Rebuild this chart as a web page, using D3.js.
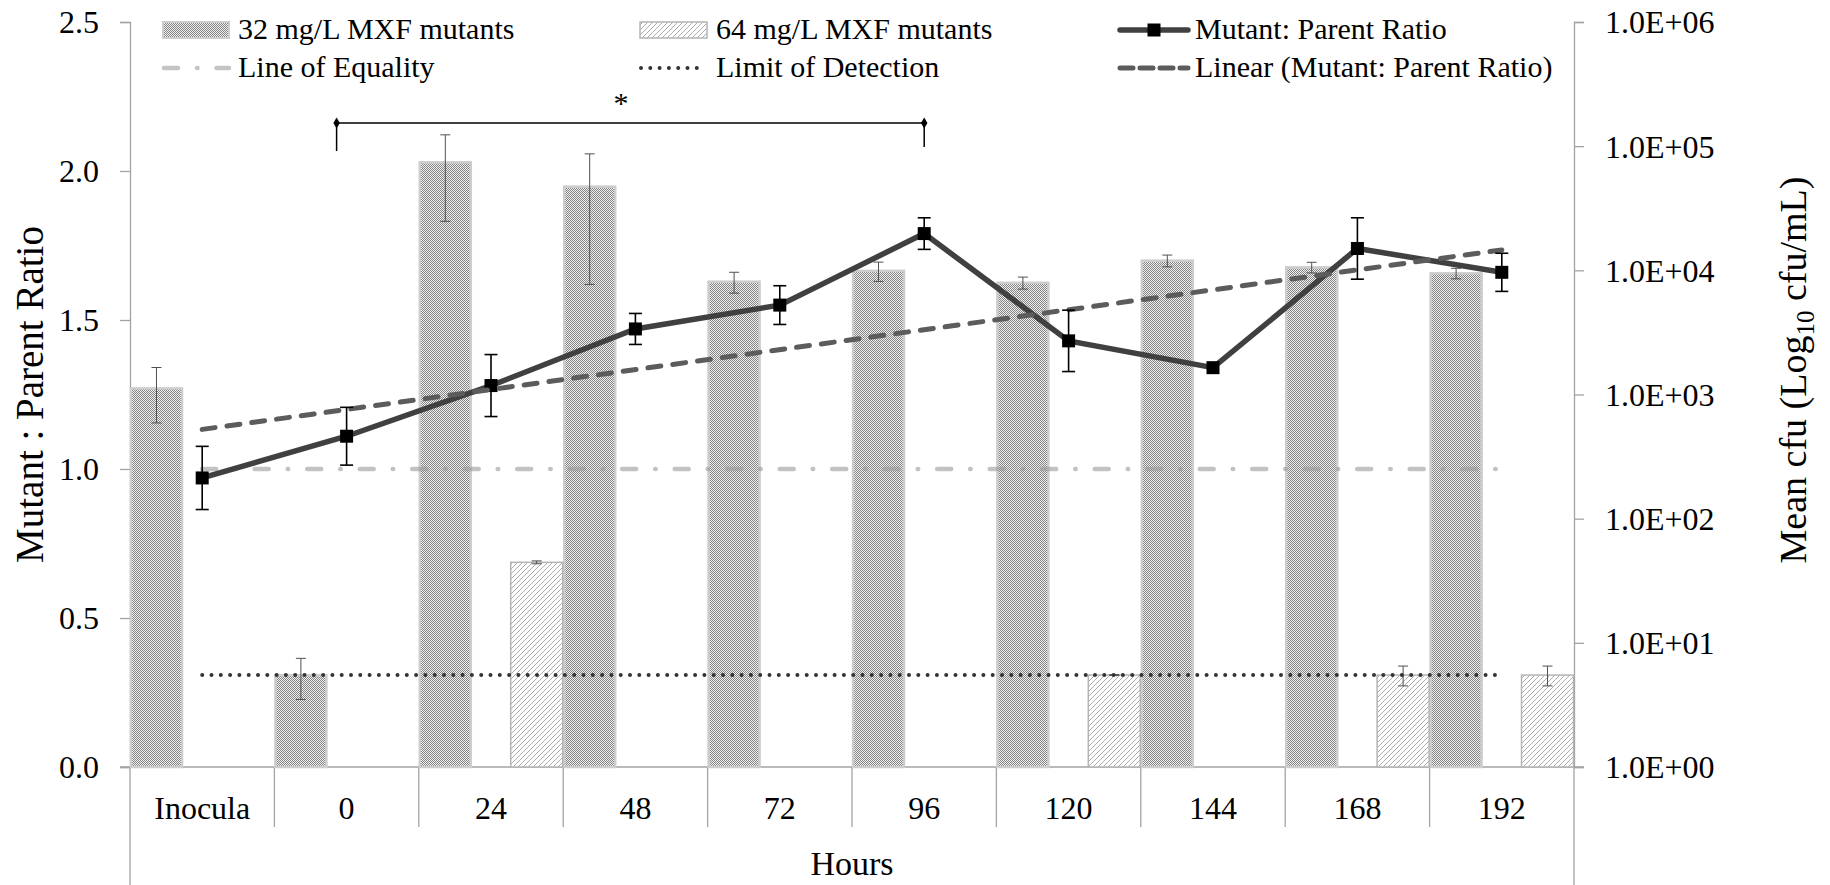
<!DOCTYPE html>
<html>
<head>
<meta charset="utf-8">
<script src="https://d3js.org/d3.v7.min.js"></script>
<style>
  body { margin: 0; background: #fff; }
  svg text { font-family: "Liberation Serif", "Times New Roman", serif; fill: #000; }
</style>
</head>
<body>
<svg id="chart" width="1830" height="885"></svg>
<script>
// hours after start (first group is the inocula)
var categories = ["Inocula", "0", "24", "48", "72", "96", "120", "144", "168", "192"];

// mutant : parent ratio (left axis) and its error
var ratio    = [0.97, 1.11, 1.28, 1.47, 1.55, 1.79, 1.43, 1.34, 1.74, 1.66];
var ratioErr = [0.106, 0.097, 0.104, 0.052, 0.065, 0.053, 0.103, 0, 0.103, 0.064];

// mean cfu/mL of mutants (right axis, log)
var mut32    = [1120, 5.5, 74100, 47200, 8100, 9900, 7940, 11970, 10570, 9460];
var mut32Err = [530, 2.0, 49300, 39500, 1550, 1750, 880, 1300, 1040, 920];
var mut64    = [null, null, 44.5, null, null, null, 5.5, null, 5.5, 5.5];
var mut64Err = [null, null, 1.2, null, null, null, 0.05, null, 1.0, 1.0];

var equality = 1.0;     // ratio
var detection = 5.5;    // cfu/mL

var leftTicks  = [0, 0.5, 1.0, 1.5, 2.0, 2.5];
var rightTicks = [1, 10, 100, 1000, 10000, 100000, 1000000];

var svg = d3.select("#chart");
var pL = 130, pR = 1574, pT = 22, pB = 767;

var x = d3.scaleBand().domain(categories).range([pL, pR]).padding(0);
var yL = d3.scaleLinear().domain([0, 2.5]).range([pB, pT]);
var yR = d3.scaleLog().domain([1, 1e6]).range([pB, pT]);
var barW = x.bandwidth() * 0.367;
var mid = function(c) { return x(c) + x.bandwidth() / 2; };

// patterns
var defs = svg.append("defs");
var p1 = defs.append("pattern").attr("id", "checker")
  .attr("patternUnits", "userSpaceOnUse").attr("width", 2).attr("height", 2);
p1.append("rect").attr("width", 2).attr("height", 2).attr("fill", "#f0f0f0");
p1.append("rect").attr("width", 1).attr("height", 1).attr("fill", "#848484");
p1.append("rect").attr("x", 1).attr("y", 1).attr("width", 1).attr("height", 1).attr("fill", "#848484");

var p2 = defs.append("pattern").attr("id", "hatch")
  .attr("patternUnits", "userSpaceOnUse").attr("width", 5).attr("height", 5);
p2.append("rect").attr("width", 5).attr("height", 5).attr("fill", "#fff");
p2.append("path").attr("d", "M-1,1 l2,-2 M0,5 l5,-5 M4,6 l2,-2")
  .attr("stroke", "#adadad").attr("stroke-width", 1);

// axes
var axisCol = "#a3a3a3";
var gL = svg.append("g").attr("transform", "translate(" + pL + ",0)")
  .call(d3.axisLeft(yL).tickValues(leftTicks).tickFormat(d3.format(".1f")).tickSize(10).tickPadding(21));
var gR = svg.append("g").attr("transform", "translate(" + pR + ",0)")
  .call(d3.axisRight(yR).tickValues(rightTicks)
    .tickFormat(function(d) { return "1.0E+" + String(Math.round(Math.log10(d))).padStart(2, "0"); })
    .tickSize(10).tickPadding(21));
[gL, gR].forEach(function(g) {
  g.select(".domain").attr("stroke", axisCol).attr("stroke-width", 1.3);
  g.selectAll(".tick line").attr("stroke", axisCol).attr("stroke-width", 1.3);
  g.selectAll(".tick text").style("font-size", "32px").attr("dy", "0.34em");
});

// category axis
var gx = svg.append("g");
gx.append("line").attr("x1", pL - 10).attr("x2", pR + 10)
  .attr("y1", pB).attr("y2", pB).attr("stroke", axisCol).attr("stroke-width", 1.3);
gx.selectAll(".sep").data(categories.slice(1)).enter().append("line")
  .attr("x1", function(d) { return x(d); }).attr("x2", function(d) { return x(d); })
  .attr("y1", pB).attr("y2", pB + 60)
  .attr("stroke", axisCol).attr("stroke-width", 1.3);
[pL, pR].forEach(function(v) {
  gx.append("line").attr("x1", v).attr("x2", v).attr("y1", pB).attr("y2", 885)
    .attr("stroke", axisCol).attr("stroke-width", 1.3);
});
gx.selectAll(".lab").data(categories).enter().append("text")
  .attr("x", function(d) { return mid(d); }).attr("y", 819)
  .attr("text-anchor", "middle").style("font-size", "32px").text(function(d) { return d; });

// bars
var bars = svg.append("g");
var rows32 = categories.map(function(c, i) { return { c: c, v: mut32[i], e: mut32Err[i] }; });
var rows64 = categories.map(function(c, i) { return { c: c, v: mut64[i], e: mut64Err[i] }; })
  .filter(function(d) { return d.v != null; });

bars.selectAll(".b32").data(rows32).enter().append("rect")
  .attr("x", function(d) { return x(d.c) + 1; })
  .attr("y", function(d) { return yR(d.v); })
  .attr("width", barW - 2)
  .attr("height", function(d) { return pB - yR(d.v); })
  .attr("fill", "url(#checker)").attr("stroke", "#cdcdcd").attr("stroke-width", 2.5);
bars.selectAll(".b64").data(rows64).enter().append("rect")
  .attr("x", function(d) { return x(d.c) + x.bandwidth() - barW + 0.5; })
  .attr("y", function(d) { return yR(d.v); })
  .attr("width", barW - 1)
  .attr("height", function(d) { return pB - yR(d.v); })
  .attr("fill", "url(#hatch)").attr("stroke", "#b4b4b4").attr("stroke-width", 1.5);

function errBars(g, rows, cx, sc, cap, col, w) {
  var eg = g.selectAll(null).data(rows.filter(function(d) { return d.e; })).enter().append("g")
    .attr("stroke", col).attr("stroke-width", w);
  eg.append("line").attr("x1", cx).attr("x2", cx)
    .attr("y1", function(d) { return sc(d.v + d.e); }).attr("y2", function(d) { return sc(d.v - d.e); });
  eg.append("line").attr("x1", function(d) { return cx(d) - cap; }).attr("x2", function(d) { return cx(d) + cap; })
    .attr("y1", function(d) { return sc(d.v + d.e); }).attr("y2", function(d) { return sc(d.v + d.e); });
  eg.append("line").attr("x1", function(d) { return cx(d) - cap; }).attr("x2", function(d) { return cx(d) + cap; })
    .attr("y1", function(d) { return sc(d.v - d.e); }).attr("y2", function(d) { return sc(d.v - d.e); });
}
errBars(bars, rows32, function(d) { return x(d.c) + barW / 2; }, yR, 5, "#505050", 1);
errBars(bars, rows64, function(d) { return x(d.c) + x.bandwidth() - barW / 2; }, yR, 5, "#505050", 1);

// reference lines
var first = mid(categories[0]), last = mid(categories[categories.length - 1]);
svg.append("line").attr("x1", first).attr("x2", last)
  .attr("y1", yR(detection)).attr("y2", yR(detection))
  .attr("stroke", "#333").attr("stroke-width", 4)
  .attr("stroke-linecap", "round").attr("stroke-dasharray", "0,9.3");
svg.append("line").attr("x1", first).attr("x2", last)
  .attr("y1", yL(equality)).attr("y2", yL(equality))
  .attr("stroke", "#9a9a9a").attr("stroke-opacity", 0.6).attr("stroke-width", 4.5)
  .attr("stroke-linecap", "round").attr("stroke-dasharray", "14,19,0.5,19");

// ratio series
var pts = categories.map(function(c, i) { return { c: c, v: ratio[i], e: ratioErr[i] }; });
svg.append("path").datum(pts)
  .attr("d", d3.line().x(function(d) { return mid(d.c); }).y(function(d) { return yL(d.v); }))
  .attr("fill", "none").attr("stroke", "#404040").attr("stroke-width", 5.5);
svg.selectAll(".mk").data(pts).enter().append("rect")
  .attr("x", function(d) { return mid(d.c) - 6.5; }).attr("y", function(d) { return yL(d.v) - 6.5; })
  .attr("width", 13).attr("height", 13).attr("fill", "#000");

// linear trendline (least squares of the ratio series)
var xi = d3.range(1, ratio.length + 1);
var mx = d3.mean(xi), my = d3.mean(ratio);
var slope = d3.sum(xi, function(v, i) { return (v - mx) * (ratio[i] - my); }) /
            d3.sum(xi, function(v) { return (v - mx) * (v - mx); });
var icpt = my - slope * mx;
svg.append("line").attr("x1", first).attr("x2", last)
  .attr("y1", yL(icpt + slope * 1)).attr("y2", yL(icpt + slope * ratio.length))
  .attr("stroke", "#5c5c5c").attr("stroke-width", 5)
  .attr("stroke-linecap", "round").attr("stroke-dasharray", "13,12");

errBars(svg, pts, function(d) { return mid(d.c); }, yL, 6.5, "#000", 1.6);

// significance bracket 0 h vs 96 h
var bx1 = mid("0") - 10, bx2 = mid("96"), by = 123;
var br = svg.append("g").attr("stroke", "#000").attr("stroke-width", 1.5);
br.append("line").attr("x1", bx1).attr("x2", bx2).attr("y1", by).attr("y2", by);
br.append("line").attr("x1", bx1).attr("x2", bx1).attr("y1", by).attr("y2", by + 28);
br.append("line").attr("x1", bx2).attr("x2", bx2).attr("y1", by).attr("y2", by + 24);
[bx1, bx2].forEach(function(v) {
  svg.append("path").attr("d", d3.symbol().type(d3.symbolDiamond).size(36)())
    .attr("transform", "translate(" + v + "," + by + ")").attr("fill", "#000");
});
svg.append("text").attr("x", 621).attr("y", 113).attr("text-anchor", "middle")
  .style("font-size", "30px").text("*");

// axis titles
svg.append("text").attr("transform", "translate(43," + ((pT + pB) / 2) + ") rotate(-90)")
  .attr("text-anchor", "middle").style("font-size", "39px").text("Mutant : Parent Ratio");
var rt = svg.append("text").attr("transform", "translate(1806,370) rotate(-90)")
  .attr("text-anchor", "middle").style("font-size", "38px");
rt.append("tspan").text("Mean cfu (Log");
rt.append("tspan").attr("dy", 8).style("font-size", "25px").text("10");
rt.append("tspan").attr("dy", -8).text(" cfu/mL)");
svg.append("text").attr("x", (pL + pR) / 2).attr("y", 875)
  .attr("text-anchor", "middle").style("font-size", "34px").text("Hours");

// legend
var lg = svg.append("g").style("font-size", "30px");
var row1 = 30, row2 = 68;
function legText(xp, yp, t) { lg.append("text").attr("x", xp).attr("y", yp + 9).text(t); }
lg.append("rect").attr("x", 163).attr("y", 22).attr("width", 66).attr("height", 16)
  .attr("fill", "url(#checker)").attr("stroke", "#cdcdcd").attr("stroke-width", 2);
legText(238, row1, "32 mg/L MXF mutants");
lg.append("rect").attr("x", 640).attr("y", 22).attr("width", 67).attr("height", 16)
  .attr("fill", "url(#hatch)").attr("stroke", "#b4b4b4").attr("stroke-width", 1.5);
legText(716, row1, "64 mg/L MXF mutants");
lg.append("line").attr("x1", 1120).attr("x2", 1188).attr("y1", row1).attr("y2", row1)
  .attr("stroke", "#404040").attr("stroke-width", 5.5).attr("stroke-linecap", "round");
lg.append("rect").attr("x", 1147.5).attr("y", row1 - 6.5).attr("width", 13).attr("height", 13).attr("fill", "#000");
legText(1195, row1, "Mutant: Parent Ratio");

lg.append("line").attr("x1", 164).attr("x2", 229).attr("y1", row2).attr("y2", row2)
  .attr("stroke", "#c4c4c4").attr("stroke-width", 4.5)
  .attr("stroke-linecap", "round").attr("stroke-dasharray", "14,19,0.5,19");
legText(238, row2, "Line of Equality");
lg.append("line").attr("x1", 641).attr("x2", 706).attr("y1", row2).attr("y2", row2)
  .attr("stroke", "#333").attr("stroke-width", 4)
  .attr("stroke-linecap", "round").attr("stroke-dasharray", "0,9.3");
legText(716, row2, "Limit of Detection");
lg.append("line").attr("x1", 1120).attr("x2", 1188).attr("y1", row2).attr("y2", row2)
  .attr("stroke", "#5c5c5c").attr("stroke-width", 5)
  .attr("stroke-linecap", "round").attr("stroke-dasharray", "13,7");
legText(1195, row2, "Linear (Mutant: Parent Ratio)");
</script>
</body>
</html>
